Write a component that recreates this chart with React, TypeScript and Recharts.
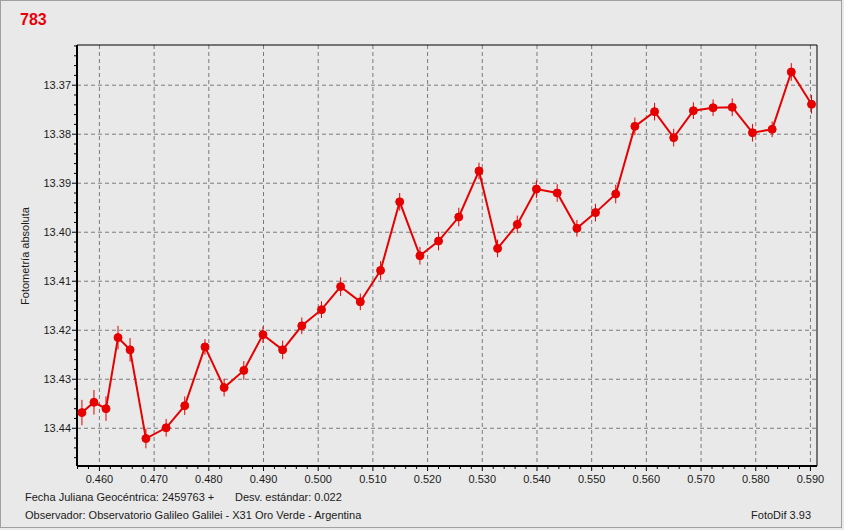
import React from 'react';
import { LineChart, Line, XAxis, YAxis, CartesianGrid, ErrorBar, ReferenceLine } from 'recharts';

// Julian date fraction (2459763 +)
const jdFrac = [0.4568, 0.4590, 0.4612, 0.4634, 0.4656, 0.4685, 0.4722, 0.4756, 0.4793, 0.4828,
  0.4864, 0.4899, 0.4935, 0.4970, 0.5006, 0.5041, 0.5077, 0.5114, 0.5149, 0.5186,
  0.5220, 0.5257, 0.5294, 0.5328, 0.5364, 0.5399, 0.5437, 0.5473, 0.5507, 0.5544,
  0.5579, 0.5615, 0.5650, 0.5686, 0.5722, 0.5757, 0.5794, 0.5830, 0.5865, 0.5902];

// Absolute magnitude
const magnitudes = [13.4368, 13.4347, 13.4360, 13.4215, 13.4240, 13.4421, 13.4399, 13.4354, 13.4234, 13.4317,
  13.4282, 13.4209, 13.4240, 13.4191, 13.4158, 13.4111, 13.4142, 13.4078, 13.3938, 13.4048,
  13.4018, 13.3969, 13.3875, 13.4033, 13.3984, 13.3912, 13.3920, 13.3992, 13.3960, 13.3922,
  13.3784, 13.3754, 13.3807, 13.3752, 13.3746, 13.3745, 13.3797, 13.3790, 13.3673, 13.3739];

// Error (half-length of error bar)
const errors = [0.0026, 0.0025, 0.0025, 0.0024, 0.0024, 0.0020, 0.0018, 0.0019, 0.0016, 0.0018,
  0.0019, 0.0017, 0.0019, 0.0017, 0.0017, 0.0019, 0.0017, 0.0019, 0.0018, 0.0018,
  0.0019, 0.0019, 0.0017, 0.0018, 0.0018, 0.0018, 0.0018, 0.0017, 0.0018, 0.0019,
  0.0018, 0.0018, 0.0018, 0.0017, 0.0017, 0.0018, 0.0018, 0.0016, 0.0018, 0.0019];

const xMajorTicks = [0.46, 0.47, 0.48, 0.49, 0.5, 0.51, 0.52, 0.53, 0.54, 0.55, 0.56, 0.57, 0.58, 0.59];
const yMajorTicks = [13.37, 13.38, 13.39, 13.4, 13.41, 13.42, 13.43, 13.44];

const X_MIN = 0.4559;
const X_MAX = 0.5912;
const Y_MIN = 13.3618;
const Y_MAX = 13.4477;

const data = jdFrac.map((x, i) => ({ x, mag: magnitudes[i], err: errors[i] }));

const r4 = (v: number) => Math.round(v * 10000) / 10000;
const subdivide = (majors: number[], step: number, lo: number, hi: number) => {
  const out: number[] = [];
  const start = majors[0] - step * 10;
  for (let k = 0; k < 200; k++) {
    const v = r4(start + k * step);
    if (v >= lo && v <= hi) out.push(v);
  }
  return out;
};
const xAllTicks = subdivide(xMajorTicks, 0.002, X_MIN, X_MAX);
const yAllTicks = subdivide(yMajorTicks, 0.002, Y_MIN, Y_MAX);
const isMajor = (v: number, majors: number[]) => majors.some((m) => Math.abs(m - v) < 1e-6);

const RED = '#e60000';
const FONT = '"Liberation Sans", Arial, sans-serif';

const XTick = (props: any) => {
  const { x, y, payload } = props;
  const major = isMajor(payload.value, xMajorTicks);
  return (
    <g>
      <line x1={x} x2={x} y1={y + 1} y2={y + (major ? 5 : 3)} stroke="#000" strokeWidth={1} />
      {major && (
        <text x={x} y={y + 9} dy="0.71em" textAnchor="middle" fontSize={11} fill="#1a1a1a" fontFamily={FONT}>
          {payload.value.toFixed(3)}
        </text>
      )}
    </g>
  );
};

const YTick = (props: any) => {
  const { x, y, payload } = props;
  const major = isMajor(payload.value, yMajorTicks);
  return (
    <g>
      <line x1={x - (major ? 5 : 3)} x2={x - 1} y1={y} y2={y} stroke="#000" strokeWidth={1} />
      {major && (
        <text x={x - 6} y={y} dy="0.355em" textAnchor="end" fontSize={11} fill="#1a1a1a" fontFamily={FONT}>
          {payload.value.toFixed(2)}
        </text>
      )}
    </g>
  );
};

export default function App() {
  return (
    <div style={{ position: 'fixed', left: 0, top: 0, width: 844, height: 530, background: '#e9e9e9', fontFamily: FONT, overflow: 'hidden' }}>
      <div style={{ position: 'absolute', left: 0, top: 0, width: 842, height: 528, border: '1px solid #a0a0a0', boxSizing: 'border-box' }} />
      <div style={{ position: 'absolute', left: 0, top: 0 }}>
        <LineChart width={844} height={530} data={data} margin={{ top: 45, right: 27, bottom: 0, left: 0 }}>
          <CartesianGrid
            stroke="#7a7a7a"
            strokeDasharray="4 3"
            horizontalValues={yMajorTicks}
            verticalValues={xMajorTicks}
          />
          <XAxis
            type="number"
            dataKey="x"
            domain={[X_MIN, X_MAX]}
            allowDataOverflow
            ticks={xAllTicks}
            interval={0}
            height={64}
            tickLine={false}
            tickSize={0}
            tickMargin={0}
            axisLine={{ stroke: '#000', strokeWidth: 2 }}
            tick={<XTick />}
          />
          <YAxis
            type="number"
            reversed
            domain={[Y_MIN, Y_MAX]}
            allowDataOverflow
            ticks={yAllTicks}
            interval={0}
            width={77}
            tickLine={false}
            tickSize={0}
            tickMargin={0}
            axisLine={{ stroke: '#000', strokeWidth: 2 }}
            tick={<YTick />}
          />
          <ReferenceLine y={Y_MIN} stroke="#000" strokeWidth={1} />
          <ReferenceLine x={X_MAX} stroke="#000" strokeWidth={1} />
          <Line
            type="linear"
            dataKey="mag"
            stroke={RED}
            strokeWidth={2}
            dot={{ r: 4, fill: RED, stroke: RED, strokeWidth: 1 }}
            isAnimationActive={false}
          >
            <ErrorBar dataKey="err" direction="y" width={0} stroke={RED} strokeWidth={1} />
          </Line>
        </LineChart>
      </div>
      <div style={{ position: 'absolute', left: 20, top: 11, fontSize: 16, fontWeight: 'bold', color: '#e8000b', lineHeight: '18px' }}>783</div>
      <div style={{ position: 'absolute', left: 25, top: 256, transform: 'translate(-50%, -50%) rotate(-90deg)', whiteSpace: 'nowrap', fontSize: 11, color: '#1a1a1a' }}>
        Fotometría absoluta
      </div>
      <div style={{ position: 'absolute', left: 25, top: 491, fontSize: 11, lineHeight: '13px', color: '#1a1a1a', whiteSpace: 'nowrap' }}>
        Fecha Juliana Geocéntrica: 2459763 +
      </div>
      <div style={{ position: 'absolute', left: 235, top: 491, fontSize: 11, lineHeight: '13px', color: '#1a1a1a', whiteSpace: 'nowrap' }}>
        Desv. estándar: 0.022
      </div>
      <div style={{ position: 'absolute', left: 25, top: 509, fontSize: 11, lineHeight: '13px', color: '#1a1a1a', whiteSpace: 'nowrap' }}>
        Observador: Observatorio Galileo Galilei - X31 Oro Verde - Argentina
      </div>
      <div style={{ position: 'absolute', right: 33, top: 509, fontSize: 11, lineHeight: '13px', color: '#1a1a1a', whiteSpace: 'nowrap' }}>
        FotoDif 3.93
      </div>
    </div>
  );
}
